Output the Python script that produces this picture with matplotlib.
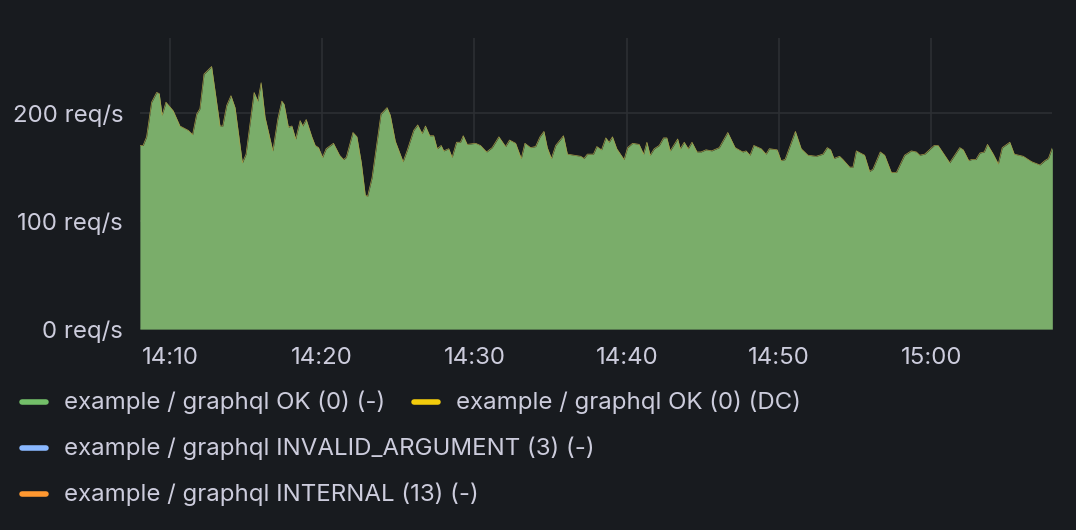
import matplotlib
matplotlib.use("Agg")
import matplotlib.pyplot as plt
import numpy as np

plt.rcParams['font.family'] = ['Inter', 'DejaVu Sans']

# minutes after 14:00
minutes = [8.03,8.24,8.47,8.80,9.13,9.30,9.49,9.74,10.22,10.66,11.20,11.49,11.76,11.97,12.24,12.74,13.29,13.47,13.73,14.01,14.28,14.76,15.00,15.53,15.77,15.99,16.25,16.76,17.09,17.35,17.50,17.78,18.01,18.26,18.55,18.72,18.95,19.32,19.54,19.76,20.02,20.26,20.74,21.14,21.40,21.58,22.02,22.28,22.57,22.83,22.98,23.27,23.86,24.26,24.47,24.80,25.31,25.57,26.01,26.27,26.56,26.78,27.06,27.32,27.55,27.81,27.98,28.31,28.53,28.82,29.08,29.26,29.52,30.07,30.39,30.79,31.16,31.60,32.04,32.30,32.70,33.07,33.31,33.68,34.01,34.30,34.56,34.78,35.05,35.33,35.84,36.10,36.97,37.19,
           37.41,37.81,38.03,38.34,38.62,38.84,39.06,39.34,39.82,40.05,40.38,40.81,41.10,41.32,41.53,41.80,42.13,42.41,42.63,42.85,43.34,43.51,43.77,44.03,44.28,44.61,44.87,45.20,45.57,46.07,46.63,47.11,47.61,47.83,48.09,48.34,48.82,49.14,49.36,49.87,50.13,50.39,51.07,51.45,51.89,52.43,52.88,53.16,53.38,53.60,53.97,54.19,54.63,54.85,55.07,55.61,55.94,56.16,56.64,56.93,57.37,57.70,58.24,58.68,59.01,59.23,59.56,60.18,60.44,61.20,61.86,62.09,62.45,62.63,62.92,63.18,63.47,63.68,64.06,64.39,64.65,65.15,65.44,66.03,66.58,67.12,67.45,67.68,67.94]
ok_values = [169,169,177,209,218,217,197,209,201,187,183,179,198,203,235,242,187,187,206,215,204,153,161,218,210,227,195,164,194,210,207,186,187,175,192,187,193,177,169,167,158,166,171,160,156,158,181,177,153,123,122,139,198,204,197,173,154,164,183,188,180,187,178,178,166,169,164,166,158,172,172,178,170,171,169,163,167,177,168,174,171,157,171,167,168,177,182,167,157,169,178,161,159,157,
             161,161,168,165,176,172,177,166,156,167,171,170,161,172,160,166,169,176,176,164,175,166,172,166,172,163,163,165,164,167,181,167,163,164,160,169,166,161,166,165,155,156,182,166,160,159,161,167,165,157,159,156,149,149,164,160,145,147,163,160,144,144,160,164,163,160,161,169,169,153,167,165,155,156,156,162,163,170,161,152,167,172,161,159,154,151,155,157,167]
dc_values = [0.8] * len(minutes)

x_ticks = [10, 20, 30, 40, 50, 60]
x_labels = ["14:10", "14:20", "14:30", "14:40", "14:50", "15:00"]
y_ticks = [0, 100, 200]
y_labels = ["0 req/s", "100 req/s", "200 req/s"]
legend_items = [
    ("example / graphql OK (0) (-)", "#73BF69"),
    ("example / graphql OK (0) (DC)", "#F2CC0C"),
    ("example / graphql INVALID_ARGUMENT (3) (-)", "#8AB8FF"),
    ("example / graphql INTERNAL (13) (-)", "#FF9830"),
]

bg = "#181b1f"
txt = "#ccccdc"
fig = plt.figure(figsize=(10.76, 5.30), dpi=100, facecolor=bg)
ax = fig.add_axes([0.130, 0.379, 0.848, 0.549], facecolor=bg)

x = np.array(minutes)
ok = np.array(ok_values)
dc = np.array(dc_values)
ax.fill_between(x, 0, ok + dc, color="#7AAD6A", lw=0, zorder=2)
ax.plot(x, ok + dc, color="#A8A048", lw=0.5, zorder=3)

ax.set_xlim(minutes[0], minutes[-1])
ax.set_ylim(0, 269)
ax.set_xticks(x_ticks)
ax.set_xticklabels(x_labels)
ax.set_yticks(y_ticks)
ax.set_yticklabels(y_labels)
ax.grid(True, color="#2c2f33", lw=1.2, zorder=1)
for s in ax.spines.values():
    s.set_visible(False)
ax.tick_params(colors=txt, labelsize=17.3, length=0)
ax.tick_params(axis="x", pad=13)
ax.tick_params(axis="y", pad=12)

# legend
rows = [(0, 0), (0, 1), (1, 0), (2, 0)]
row_y = [402, 448, 494]
col_x = [20, 412]
for (label, color), (r, c) in zip(legend_items, rows):
    px = col_x[c]
    py = row_y[r]
    fig.add_artist(plt.Line2D([(px + 2) / 1076, (px + 26) / 1076], [1 - py / 530] * 2,
                              color=color, lw=4, solid_capstyle="round"))
    fig.text((px + 44) / 1076, 1 - py / 530, label, color=txt, fontsize=17.3, va="center")

fig.savefig("out.png", dpi=100, facecolor=bg)
